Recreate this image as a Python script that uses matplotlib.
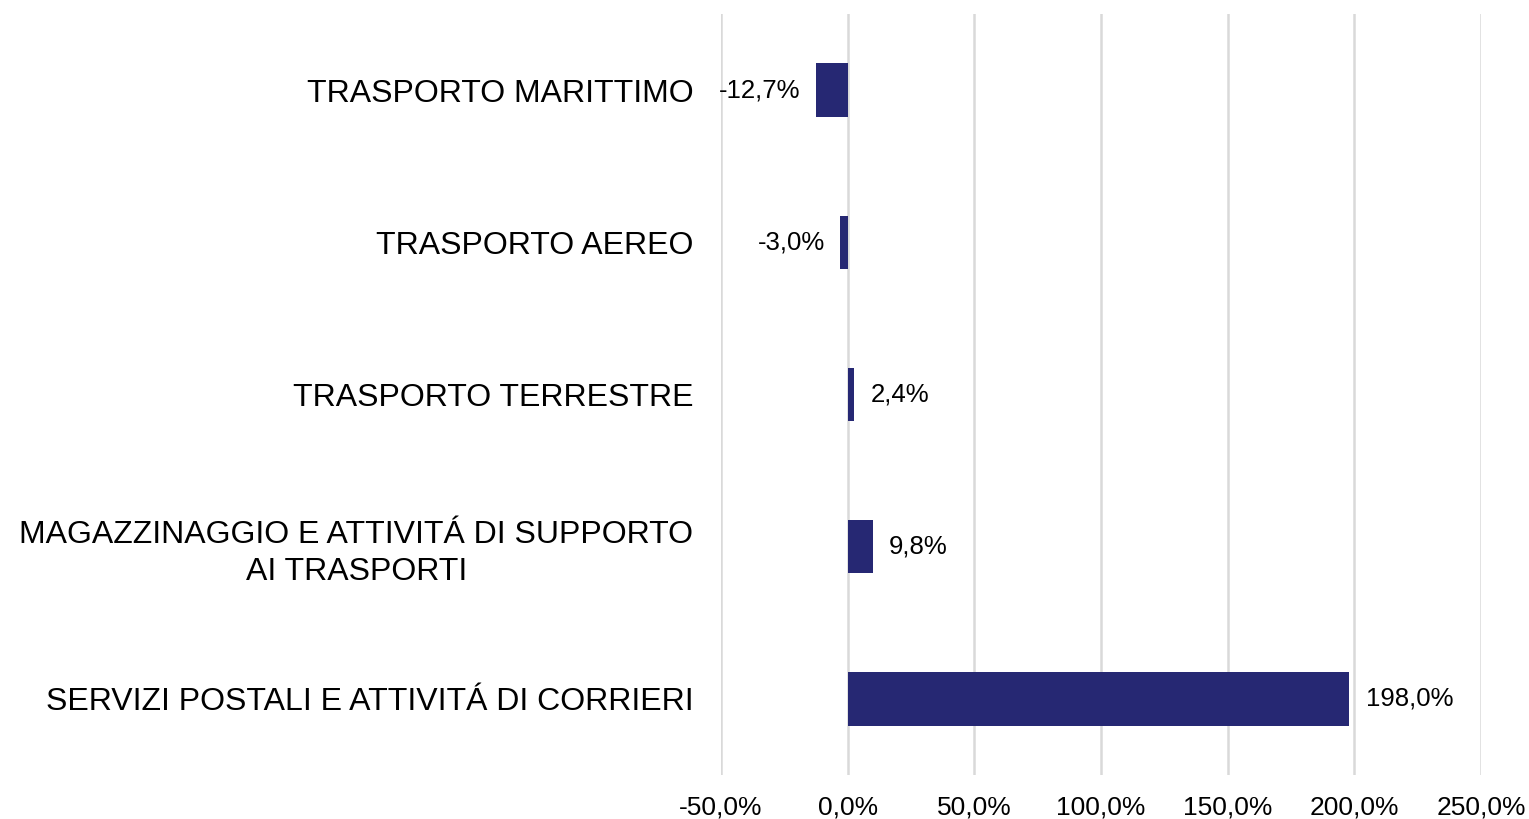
import matplotlib
matplotlib.use('Agg')
from matplotlib import pyplot as plt

# dati (dall'alto verso il basso)
categorie = ['TRASPORTO MARITTIMO',
             'TRASPORTO AEREO',
             'TRASPORTO TERRESTRE',
             'MAGAZZINAGGIO E ATTIVITÁ DI SUPPORTO\nAI TRASPORTI',
             'SERVIZI POSTALI E ATTIVITÁ DI CORRIERI']
variazioni = [-12.7, -3.0, 2.4, 9.8, 198.0]
ticks_x = [-50, 0, 50, 100, 150, 200, 250]


def fmt(v):
    return '{:.1f}%'.format(v).replace('.', ',')


def main():
    plt.rcParams['font.family'] = ['Liberation Sans', 'DejaVu Sans']
    fig = plt.figure(figsize=(15.29, 8.19), dpi=100)
    ax = fig.add_axes([0.4716, 0.0537, 0.4970, 0.9293])

    pos = list(range(len(categorie)))
    ax.barh(pos, variazioni, height=0.35, color='#262873', zorder=3)

    for y, v in zip(pos, variazioni):
        if v < 0:
            ax.annotate(fmt(v), (v, y), xytext=(-11, 0), textcoords='offset points',
                        ha='right', va='center', fontsize=18.5)
        else:
            ax.annotate(fmt(v), (v, y), xytext=(12, 0), textcoords='offset points',
                        ha='left', va='center', fontsize=18.5)

    ax.set_xlim(-50, 250)
    ax.set_ylim(len(categorie) - 0.5, -0.5)
    ax.set_xticks(ticks_x)
    ax.set_xticklabels([fmt(t) for t in ticks_x], fontsize=19)
    ax.set_yticks(pos)
    ax.set_yticklabels(categorie, fontsize=23)
    for lab in ax.get_yticklabels():
        lab.set_multialignment('center')
        lab.set_linespacing(1.3)
    ax.tick_params(axis='x', length=0, pad=15)
    ax.tick_params(axis='y', length=0, pad=20)

    ax.grid(axis='x', color='#d9d9d9', linewidth=1.8, zorder=0)
    for s in ax.spines.values():
        s.set_visible(False)

    fig.savefig('out.png', dpi=100)


if __name__ == '__main__':
    main()
